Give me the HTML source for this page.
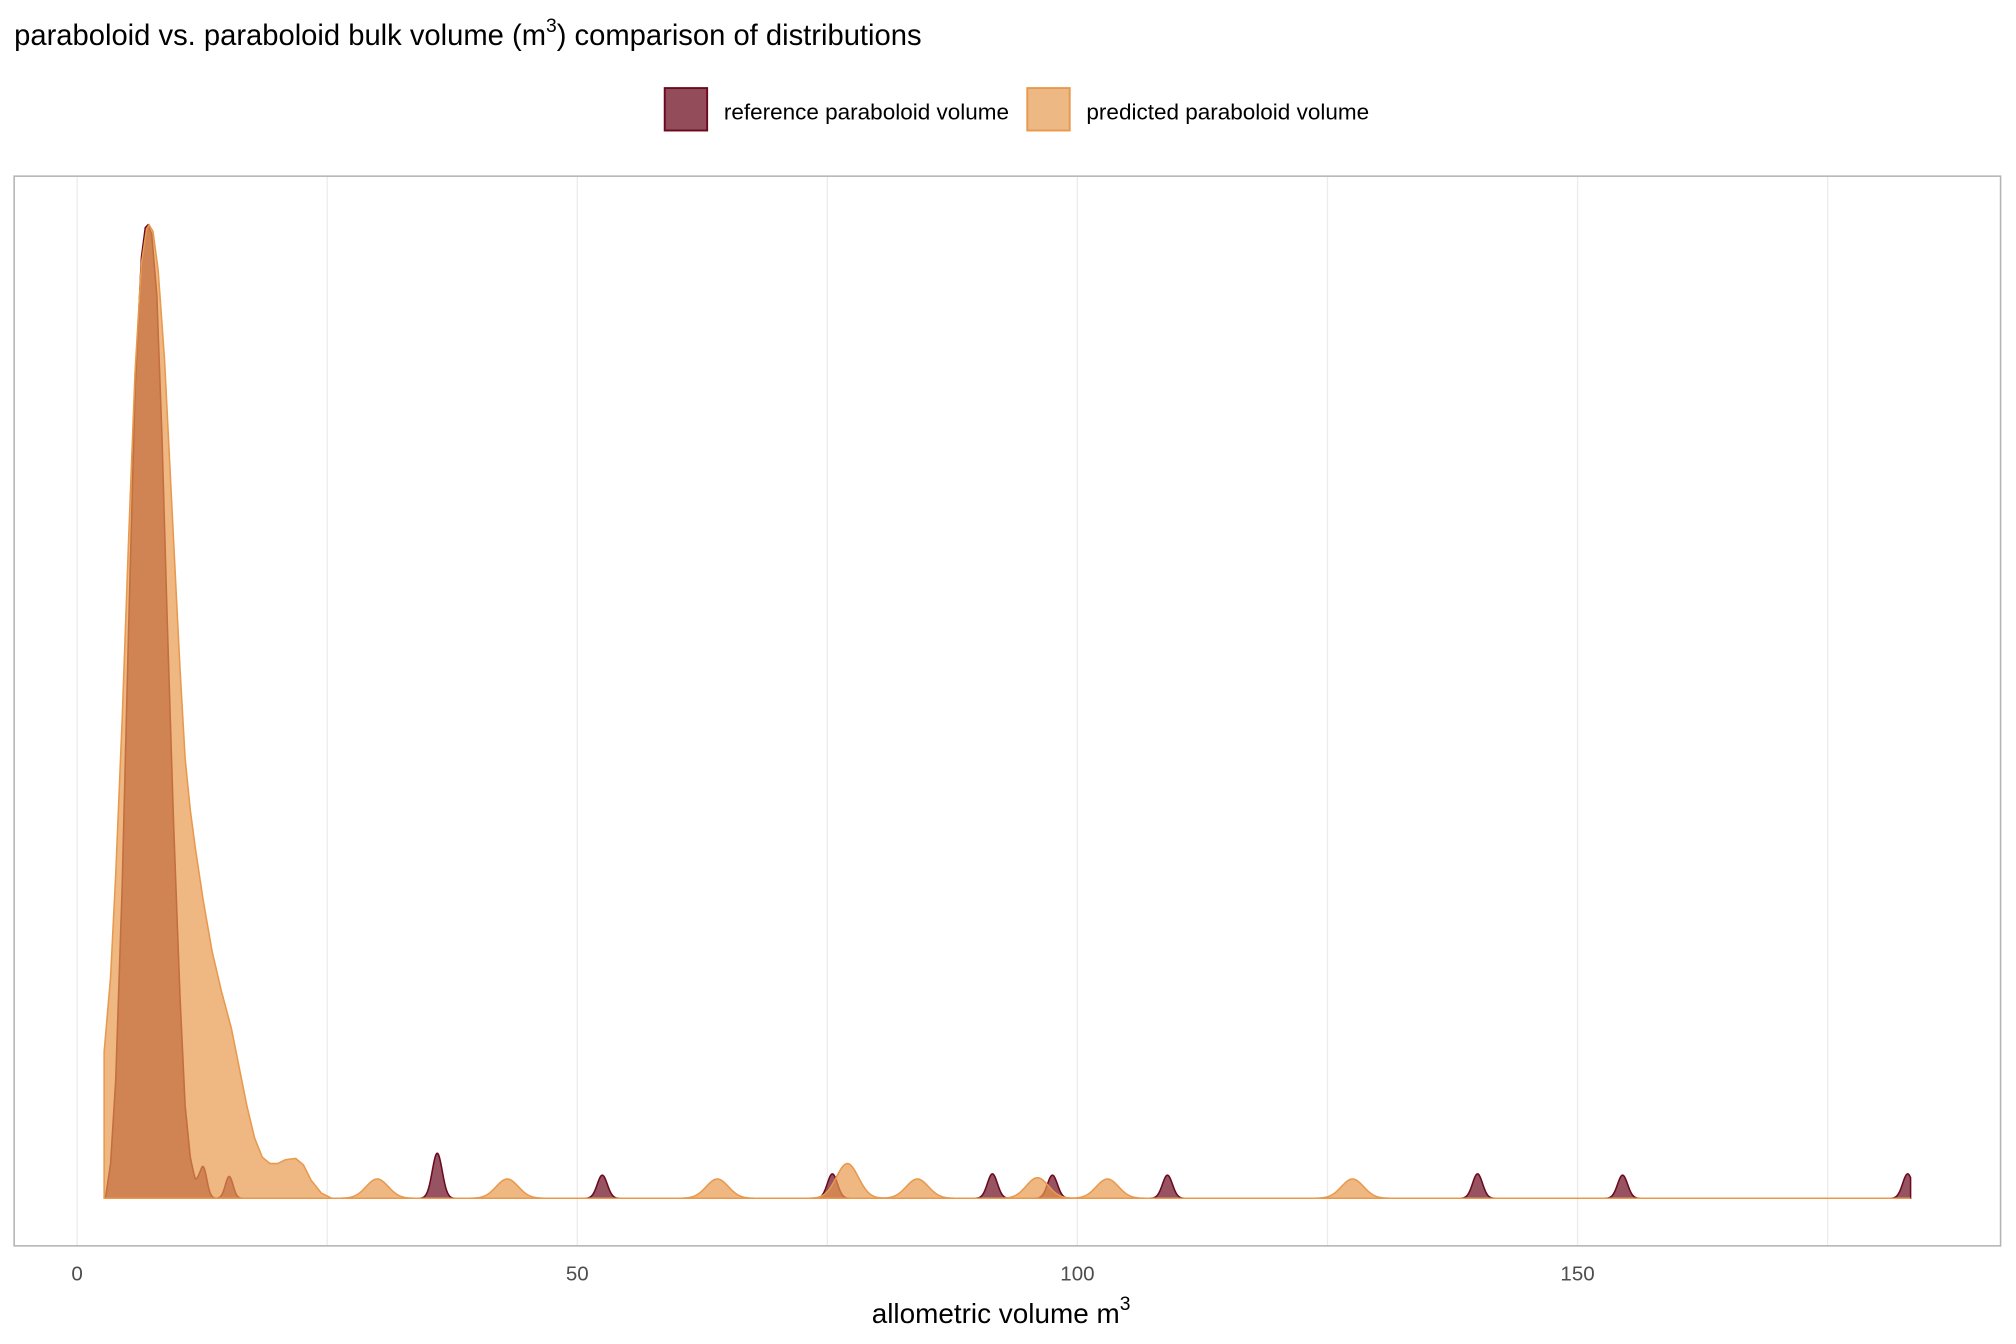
<!DOCTYPE html>
<html><head><meta charset="utf-8"><style>
html,body{margin:0;padding:0;background:#fff;}
svg{display:block;}
text{font-family:"Liberation Sans",Arial,sans-serif;}
</style></head><body>
<svg id="s" width="2016" height="1344" viewBox="0 0 1568 1045.33" xmlns="http://www.w3.org/2000/svg">
<rect x="0" y="0" width="1568" height="1046" fill="#fff"/>
<text x="11" y="35" font-size="22.7" fill="#000">paraboloid vs. paraboloid bulk volume (m<tspan dy="-10" font-size="15">3</tspan><tspan dy="10">) comparison of distributions</tspan></text>
<rect x="517" y="68.5" width="33" height="33" fill="#934C5A" stroke="#6B0A1E" stroke-width="1.5"/>
<text x="563" y="93" font-size="17.5" fill="#000">reference paraboloid volume</text>
<rect x="799" y="68.5" width="33" height="33" fill="#EEB885" stroke="#E8994D" stroke-width="1.5"/>
<text x="845" y="93" font-size="17.5" fill="#000">predicted paraboloid volume</text>
<g stroke="#EBEBEB" stroke-width="1">
<line x1="60" y1="137" x2="60" y2="969"/><line x1="254.5" y1="137" x2="254.5" y2="969"/>
<line x1="449" y1="137" x2="449" y2="969"/><line x1="643.5" y1="137" x2="643.5" y2="969"/>
<line x1="838" y1="137" x2="838" y2="969"/><line x1="1032.5" y1="137" x2="1032.5" y2="969"/>
<line x1="1227" y1="137" x2="1227" y2="969"/><line x1="1421.5" y1="137" x2="1421.5" y2="969"/>
</g>
<path id="ref" fill="#6B0A1E" fill-opacity="0.7" stroke="#6B0A1E" stroke-width="1.2"/>
<path id="pred" fill="#E8994D" fill-opacity="0.7" stroke="#E8994D" stroke-width="1.2"/>
<rect x="11" y="137" width="1545" height="832" fill="none" stroke="#B3B3B3" stroke-width="1.2"/>
<g font-size="16" fill="#4D4D4D" text-anchor="middle">
<text x="60" y="996">0</text><text x="449" y="996">50</text><text x="838" y="996">100</text><text x="1227" y="996">150</text>
</g>
<text x="678" y="1029" font-size="21.7" fill="#000">allometric volume m<tspan dy="-10" font-size="15">3</tspan></text>
</svg>
<script>
var B=932;
function X(v){return 60+7.78*v;}
function g(x,mu,s,h){var d=(x-mu)/s;return h*Math.exp(-0.5*d*d);}
function interp(P,x){
 if(x<P[0][0]||x>P[P.length-1][0])return 0;
 for(var i=0;i<P.length-1;i++){
  var w=P[i+1][0]-P[i][0];
  if(w<=0)continue;
  if(x>=P[i][0]&&x<=P[i+1][0]){var t=(x-P[i][0])/w;return B-(P[i][1]+t*(P[i+1][1]-P[i][1]));}}
 return 0;}
var refPts=[[82,932],[86,905],[90,840],[95,690],[100,490],[105,305],[110,200],[113,177],[115,175],[118,182],[122,230],[126,340],[130,480],[135,640],[140,775],[144,860],[148,900],[152,920],[156,928],[162,932]];
var refPeaks=[[36,35],[52.5,18],[75.5,19],[91.5,19],[97.5,18],[109,18],[140,19],[154.5,18],[183,19]];
function ref(x){
 var v=interp(refPts,x)+g(x,X(12.6),3.0,22)+g(x,X(15.2),3.0,17);
 for(var i=0;i<refPeaks.length;i++)v+=g(x,X(refPeaks[i][0]),3.9,refPeaks[i][1]);
 return v;}
var pts=[[81,818],[86,760],[90,680],[95,560],[100,420],[105,290],[110,205],[114,178],[116,175],[119,180],[123,210],[128,280],[132,360],[136,440],[140,520],[144,590],[148,630],[152,660],[158,700],[165,740],[172,770],[180,800],[186,830],[192,860],[198,885],[204,900],[210,905],[216,905],[222,902],[230,901],[236,906],[242,918],[250,928],[258,932]];
var predPeaks=[[30,15],[43,15],[64,15],[77,27],[84,15],[96,16],[103,15],[127.5,15]];
function pred(x){
 var v=interp(pts,x);
 for(var j=0;j<predPeaks.length;j++)v+=g(x,X(predPeaks[j][0]),8.6,predPeaks[j][1]);
 return v;}
function build(f,x0,x1){
 var d="M"+x0+","+B;
 for(var x=x0;x<=x1;x+=0.5){var y=f(x);if(!isFinite(y))y=0;d+=" L"+x.toFixed(1)+","+(B-y).toFixed(2);}
 d+=" L"+x1+","+B+" Z";return d;}
document.getElementById("ref").setAttribute("d",build(ref,82,1486));
document.getElementById("pred").setAttribute("d",build(pred,81,1486));
</script>
</body></html>
